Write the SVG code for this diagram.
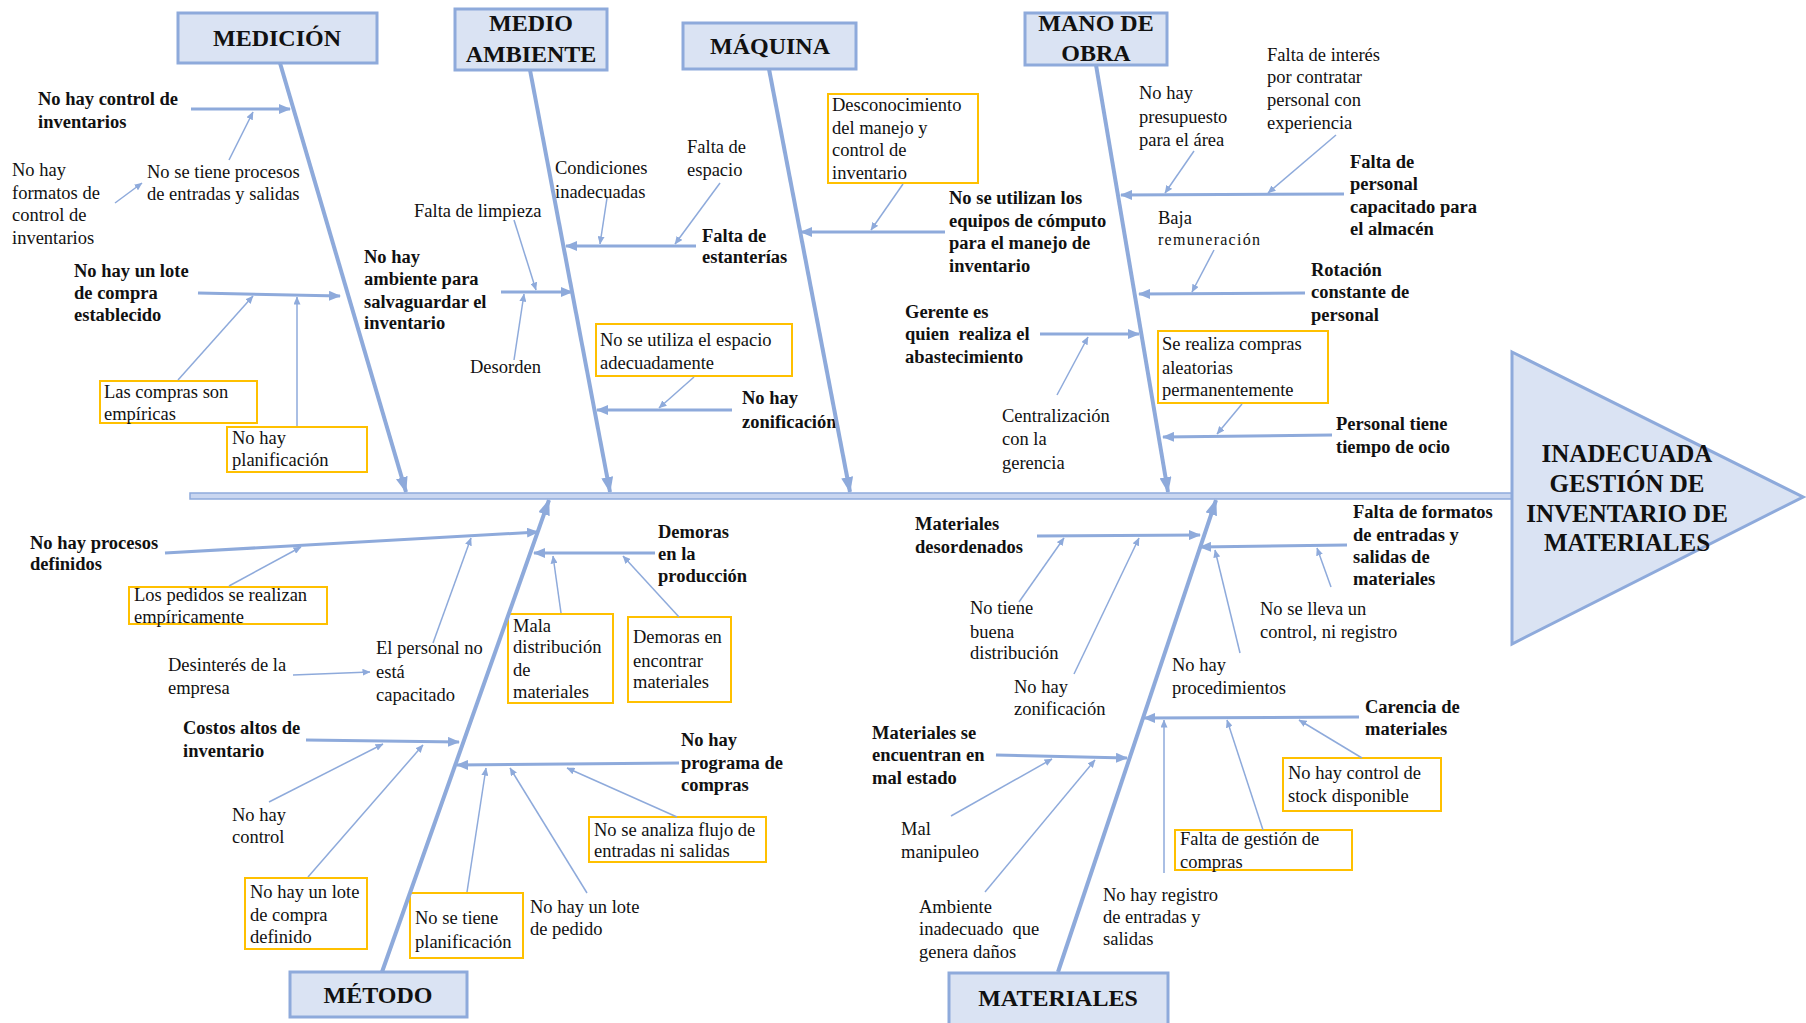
<svg xmlns="http://www.w3.org/2000/svg" width="1806" height="1023" viewBox="0 0 1806 1023">
  <style>
    .b { font-family: "Liberation Serif", "Times New Roman", serif; font-weight: bold; font-size: 18.5px; fill: #111; }
    .r { font-family: "Liberation Serif", "Times New Roman", serif; font-size: 18.5px; fill: #111; }
    .cat { font-family: "Liberation Serif", "Times New Roman", serif; font-weight: bold; font-size: 24px; fill: #111; text-anchor: middle; }
    .head { font-family: "Liberation Serif", "Times New Roman", serif; font-weight: bold; font-size: 25px; fill: #111; text-anchor: middle; }
    .catbox { fill: #dae3f3; stroke: #8eaadb; stroke-width: 3; }
    .ybox { fill: #ffffff; stroke: #ffc000; stroke-width: 2; }
    .bone { stroke: #8eaadb; stroke-width: 4; fill: none; marker-end: url(#arrowL); }
    .br { stroke: #8eaadb; stroke-width: 3; fill: none; marker-end: url(#arrowM); }
    .sub { stroke: #8eaadb; stroke-width: 1.5; fill: none; marker-end: url(#arrowS); }
  </style>
  <defs>
    <marker id="arrowL" markerUnits="userSpaceOnUse" markerWidth="16" markerHeight="12" refX="15" refY="6" orient="auto">
      <path d="M0,0 L16,6 L0,12 z" fill="#8eaadb"/>
    </marker>
    <marker id="arrowM" markerUnits="userSpaceOnUse" markerWidth="12" markerHeight="10" refX="11" refY="5" orient="auto">
      <path d="M0,0 L12,5 L0,10 z" fill="#8eaadb"/>
    </marker>
    <marker id="arrowS" markerUnits="userSpaceOnUse" markerWidth="8" markerHeight="7" refX="7.5" refY="3.5" orient="auto">
      <path d="M0,0 L8,3.5 L0,7 z" fill="#8eaadb"/>
    </marker>
  </defs>

  <rect width="1806" height="1023" fill="#ffffff"/>

  <!-- spine and fish head -->
  <g id="spine">
    <rect x="190" y="493" width="1322" height="6" fill="#c9d6f0" stroke="#8eaadb" stroke-width="1.5"/>
  </g>
  <g id="head">
    <polygon points="1512,352 1803,497 1512,644" fill="#dae3f3" stroke="#8eaadb" stroke-width="3"/>
    <text class="head" x="1627"><tspan x="1627" y="462">INADECUADA</tspan><tspan x="1627" y="492">GESTIÓN DE</tspan><tspan x="1627" y="522">INVENTARIO DE</tspan><tspan x="1627" y="551">MATERIALES</tspan></text>
  </g>

  <!-- category boxes -->
  <g id="cat-medicion">
    <rect class="catbox" x="178" y="13" width="199" height="50"/>
    <text class="cat" x="277" y="46">MEDICIÓN</text>
  </g>
  <g id="cat-medio-ambiente">
    <rect class="catbox" x="455" y="9" width="152" height="61"/>
    <text class="cat"><tspan x="531" y="31">MEDIO</tspan><tspan x="531" y="62">AMBIENTE</tspan></text>
  </g>
  <g id="cat-maquina">
    <rect class="catbox" x="683" y="23" width="173" height="46"/>
    <text class="cat" x="770" y="54">MÁQUINA</text>
  </g>
  <g id="cat-mano-de-obra">
    <rect class="catbox" x="1025" y="13" width="142" height="52"/>
    <text class="cat"><tspan x="1096" y="31">MANO DE</tspan><tspan x="1096" y="61">OBRA</tspan></text>
  </g>
  <g id="cat-metodo">
    <rect class="catbox" x="290" y="972" width="177" height="45"/>
    <text class="cat" x="378" y="1003">MÉTODO</text>
  </g>
  <g id="cat-materiales">
    <rect class="catbox" x="949" y="973" width="219" height="56"/>
    <text class="cat" x="1058" y="1006">MATERIALES</text>
  </g>

  <!-- MEDICIÓN causes -->
  <g id="n-control-inventarios">
    <text class="b"><tspan x="38" y="105">No hay control de</tspan><tspan x="38" y="128">inventarios</tspan></text>
  </g>
  <g id="n-procesos-es">
    <text class="r"><tspan x="147" y="178">No se tiene procesos</tspan><tspan x="147" y="200">de entradas y salidas</tspan></text>
  </g>
  <g id="n-formatos-control">
    <text class="r"><tspan x="12" y="176">No hay</tspan><tspan x="12" y="198.5">formatos de</tspan><tspan x="12" y="221">control de</tspan><tspan x="12" y="243.5">inventarios</tspan></text>
  </g>
  <g id="n-lote-compra">
    <text class="b"><tspan x="74" y="277">No hay un lote</tspan><tspan x="74" y="299">de compra</tspan><tspan x="74" y="321">establecido</tspan></text>
  </g>
  <g id="n-compras-empiricas">
    <rect class="ybox" x="100" y="381" width="157" height="42"/>
    <text class="r"><tspan x="104" y="398">Las compras son</tspan><tspan x="104" y="420">empíricas</tspan></text>
  </g>
  <g id="n-planificacion">
    <rect class="ybox" x="227" y="427" width="140" height="45"/>
    <text class="r"><tspan x="232" y="444">No hay</tspan><tspan x="232" y="466">planificación</tspan></text>
  </g>

  <!-- MEDIO AMBIENTE causes -->
  <g id="n-ambiente-salvaguardar">
    <text class="b"><tspan x="364" y="263">No hay</tspan><tspan x="364" y="285">ambiente para</tspan><tspan x="364" y="308">salvaguardar el</tspan><tspan x="364" y="329">inventario</tspan></text>
  </g>
  <g id="n-limpieza">
    <text class="r" x="414" y="217">Falta de limpieza</text>
  </g>
  <g id="n-desorden">
    <text class="r" x="470" y="373">Desorden</text>
  </g>
  <g id="n-condiciones">
    <text class="r"><tspan x="555" y="174">Condiciones</tspan><tspan x="555" y="198">inadecuadas</tspan></text>
  </g>
  <g id="n-espacio">
    <text class="r"><tspan x="687" y="153">Falta de</tspan><tspan x="687" y="176">espacio</tspan></text>
  </g>
  <g id="n-estanterias">
    <text class="b"><tspan x="702" y="242">Falta de</tspan><tspan x="702" y="263">estanterías</tspan></text>
  </g>
  <g id="n-espacio-adecuado">
    <rect class="ybox" x="596" y="324" width="196" height="52"/>
    <text class="r"><tspan x="600" y="346">No se utiliza el espacio</tspan><tspan x="600" y="369">adecuadamente</tspan></text>
  </g>
  <g id="n-zonificacion-ma">
    <text class="b"><tspan x="742" y="404">No hay</tspan><tspan x="742" y="428">zonificación</tspan></text>
  </g>

  <!-- MÁQUINA causes -->
  <g id="n-equipos-computo">
    <text class="b"><tspan x="949" y="204">No se utilizan los</tspan><tspan x="949" y="227">equipos de cómputo</tspan><tspan x="949" y="249">para el manejo de</tspan><tspan x="949" y="272">inventario</tspan></text>
  </g>
  <g id="n-desconocimiento">
    <rect class="ybox" x="828" y="94" width="150" height="89"/>
    <text class="r"><tspan x="832" y="111">Desconocimiento</tspan><tspan x="832" y="134">del manejo y</tspan><tspan x="832" y="156">control de</tspan><tspan x="832" y="179">inventario</tspan></text>
  </g>
  <g id="n-gerente">
    <text class="b" xml:space="preserve"><tspan x="905" y="318">Gerente es</tspan><tspan x="905" y="340">quien  realiza el</tspan><tspan x="905" y="363">abastecimiento</tspan></text>
  </g>
  <g id="n-centralizacion">
    <text class="r"><tspan x="1002" y="422">Centralización</tspan><tspan x="1002" y="445">con la</tspan><tspan x="1002" y="469">gerencia</tspan></text>
  </g>

  <!-- MANO DE OBRA causes -->
  <g id="n-personal-capacitado">
    <text class="b"><tspan x="1350" y="168">Falta de</tspan><tspan x="1350" y="190">personal</tspan><tspan x="1350" y="213">capacitado para</tspan><tspan x="1350" y="235">el almacén</tspan></text>
  </g>
  <g id="n-presupuesto">
    <text class="r"><tspan x="1139" y="99">No hay</tspan><tspan x="1139" y="123">presupuesto</tspan><tspan x="1139" y="146">para el área</tspan></text>
  </g>
  <g id="n-interes">
    <text class="r"><tspan x="1267" y="61">Falta de interés</tspan><tspan x="1267" y="83">por contratar</tspan><tspan x="1267" y="106">personal con</tspan><tspan x="1267" y="129">experiencia</tspan></text>
  </g>
  <g id="n-rotacion">
    <text class="b"><tspan x="1311" y="276">Rotación</tspan><tspan x="1311" y="298">constante de</tspan><tspan x="1311" y="321">personal</tspan></text>
  </g>
  <g id="n-remuneracion">
    <text class="r" x="1158" y="224">Baja</text>
    <text class="r" x="1158" y="245" style="font-size:16px" textLength="102" lengthAdjust="spacing">remuneración</text>
  </g>
  <g id="n-compras-aleatorias">
    <rect class="ybox" x="1158" y="331" width="170" height="72"/>
    <text class="r"><tspan x="1162" y="350">Se realiza compras</tspan><tspan x="1162" y="374">aleatorias</tspan><tspan x="1162" y="396">permanentemente</tspan></text>
  </g>
  <g id="n-ocio">
    <text class="b"><tspan x="1336" y="430">Personal tiene</tspan><tspan x="1336" y="453">tiempo de ocio</tspan></text>
  </g>

  <!-- MÉTODO causes -->
  <g id="n-procesos-definidos">
    <text class="b"><tspan x="30" y="549">No hay procesos</tspan><tspan x="30" y="570">definidos</tspan></text>
  </g>
  <g id="n-pedidos-empiricos">
    <rect class="ybox" x="129" y="587" width="198" height="37"/>
    <text class="r"><tspan x="134" y="601">Los pedidos se realizan</tspan><tspan x="134" y="623">empíricamente</tspan></text>
  </g>
  <g id="n-personal-no-capacitado">
    <text class="r"><tspan x="376" y="654">El personal no</tspan><tspan x="376" y="678">está</tspan><tspan x="376" y="701">capacitado</tspan></text>
  </g>
  <g id="n-desinteres">
    <text class="r"><tspan x="168" y="671">Desinterés de la</tspan><tspan x="168" y="694">empresa</tspan></text>
  </g>
  <g id="n-costos-altos">
    <text class="b"><tspan x="183" y="734">Costos altos de</tspan><tspan x="183" y="757">inventario</tspan></text>
  </g>
  <g id="n-no-control">
    <text class="r"><tspan x="232" y="821">No hay</tspan><tspan x="232" y="843">control</tspan></text>
  </g>
  <g id="n-lote-definido">
    <rect class="ybox" x="245" y="878" width="122" height="71"/>
    <text class="r"><tspan x="250" y="898">No hay un lote</tspan><tspan x="250" y="921">de compra</tspan><tspan x="250" y="943">definido</tspan></text>
  </g>
  <g id="n-programa-compras">
    <text class="b"><tspan x="681" y="746">No hay</tspan><tspan x="681" y="769">programa de</tspan><tspan x="681" y="791">compras</tspan></text>
  </g>
  <g id="n-flujo">
    <rect class="ybox" x="589" y="817" width="177" height="45"/>
    <text class="r"><tspan x="594" y="836">No se analiza flujo de</tspan><tspan x="594" y="857">entradas ni salidas</tspan></text>
  </g>
  <g id="n-lote-pedido">
    <text class="r"><tspan x="530" y="913">No hay un lote</tspan><tspan x="530" y="935">de pedido</tspan></text>
  </g>
  <g id="n-sin-planificacion">
    <rect class="ybox" x="410" y="893" width="113" height="65"/>
    <text class="r"><tspan x="415" y="924">No se tiene</tspan><tspan x="415" y="948">planificación</tspan></text>
  </g>
  <g id="n-demoras-produccion">
    <text class="b"><tspan x="658" y="538">Demoras</tspan><tspan x="658" y="560">en la</tspan><tspan x="658" y="582">producción</tspan></text>
  </g>
  <g id="n-mala-distribucion">
    <rect class="ybox" x="508" y="614" width="105" height="89"/>
    <text class="r"><tspan x="513" y="632">Mala</tspan><tspan x="513" y="653">distribución</tspan><tspan x="513" y="676">de</tspan><tspan x="513" y="698">materiales</tspan></text>
  </g>
  <g id="n-demoras-encontrar">
    <rect class="ybox" x="628" y="617" width="103" height="85"/>
    <text class="r"><tspan x="633" y="643">Demoras en</tspan><tspan x="633" y="667">encontrar</tspan><tspan x="633" y="688">materiales</tspan></text>
  </g>

  <!-- MATERIALES causes -->
  <g id="n-desordenados">
    <text class="b"><tspan x="915" y="530">Materiales</tspan><tspan x="915" y="553">desordenados</tspan></text>
  </g>
  <g id="n-buena-distribucion">
    <text class="r"><tspan x="970" y="614">No tiene</tspan><tspan x="970" y="638">buena</tspan><tspan x="970" y="659">distribución</tspan></text>
  </g>
  <g id="n-zonificacion-mat">
    <text class="r"><tspan x="1014" y="693">No hay</tspan><tspan x="1014" y="715">zonificación</tspan></text>
  </g>
  <g id="n-formatos-es">
    <text class="b"><tspan x="1353" y="518">Falta de formatos</tspan><tspan x="1353" y="541">de entradas y</tspan><tspan x="1353" y="563">salidas de</tspan><tspan x="1353" y="585">materiales</tspan></text>
  </g>
  <g id="n-control-registro">
    <text class="r"><tspan x="1260" y="615">No se lleva un</tspan><tspan x="1260" y="638">control, ni registro</tspan></text>
  </g>
  <g id="n-procedimientos">
    <text class="r"><tspan x="1172" y="671">No hay</tspan><tspan x="1172" y="694">procedimientos</tspan></text>
  </g>
  <g id="n-mal-estado">
    <text class="b"><tspan x="872" y="739">Materiales se</tspan><tspan x="872" y="761">encuentran en</tspan><tspan x="872" y="784">mal estado</tspan></text>
  </g>
  <g id="n-manipuleo">
    <text class="r"><tspan x="901" y="835">Mal</tspan><tspan x="901" y="858">manipuleo</tspan></text>
  </g>
  <g id="n-ambiente-danos">
    <text class="r" xml:space="preserve"><tspan x="919" y="913">Ambiente</tspan><tspan x="919" y="935">inadecuado  que</tspan><tspan x="919" y="958">genera daños</tspan></text>
  </g>
  <g id="n-carencia">
    <text class="b"><tspan x="1365" y="713">Carencia de</tspan><tspan x="1365" y="735">materiales</tspan></text>
  </g>
  <g id="n-stock">
    <rect class="ybox" x="1283" y="758" width="158" height="53"/>
    <text class="r"><tspan x="1288" y="779">No hay control de</tspan><tspan x="1288" y="802">stock disponible</tspan></text>
  </g>
  <g id="n-gestion-compras">
    <rect class="ybox" x="1175" y="830" width="177" height="40"/>
    <text class="r"><tspan x="1180" y="845">Falta de gestión de</tspan><tspan x="1180" y="868">compras</tspan></text>
  </g>
  <g id="n-registro-es">
    <text class="r"><tspan x="1103" y="901">No hay registro</tspan><tspan x="1103" y="923">de entradas y</tspan><tspan x="1103" y="945">salidas</tspan></text>
  </g>

  <!-- connectors: bones, branches and sub-causes (drawn over the labels) -->
  <g id="connectors">
    <line class="bone" x1="280" y1="63" x2="406" y2="492"/>
    <line class="bone" x1="530" y1="70" x2="610" y2="492"/>
    <line class="bone" x1="769" y1="69" x2="850" y2="492"/>
    <line class="bone" x1="1096" y1="65" x2="1168" y2="492"/>
    <line class="bone" x1="382" y1="972" x2="549" y2="500"/>
    <line class="bone" x1="1058" y1="972" x2="1216" y2="500"/>

    <line class="br" x1="191" y1="109" x2="290" y2="109"/>
    <line class="br" x1="198" y1="293" x2="340" y2="296"/>
    <line class="br" x1="501" y1="292" x2="572" y2="292"/>
    <line class="br" x1="696" y1="246" x2="566" y2="246"/>
    <line class="br" x1="732" y1="410" x2="597" y2="410"/>
    <line class="br" x1="945" y1="232" x2="801" y2="232"/>
    <line class="br" x1="1040" y1="334" x2="1139" y2="334"/>
    <line class="br" x1="1344" y1="194" x2="1121" y2="195"/>
    <line class="br" x1="1305" y1="293" x2="1139" y2="294"/>
    <line class="br" x1="1332" y1="435" x2="1163" y2="437"/>
    <line class="br" x1="165" y1="553" x2="538" y2="532"/>
    <line class="br" x1="306" y1="740" x2="459" y2="742"/>
    <line class="br" x1="679" y1="763" x2="457" y2="765"/>
    <line class="br" x1="655" y1="553" x2="534" y2="553"/>
    <line class="br" x1="1037" y1="536" x2="1200" y2="535"/>
    <line class="br" x1="1347" y1="545" x2="1200" y2="547"/>
    <line class="br" x1="996" y1="755" x2="1127" y2="758"/>
    <line class="br" x1="1359" y1="717" x2="1144" y2="718"/>

    <line class="sub" x1="115" y1="203" x2="142" y2="183"/>
    <line class="sub" x1="229" y1="160" x2="253" y2="112"/>
    <line class="sub" x1="178" y1="380" x2="253" y2="296"/>
    <line class="sub" x1="297" y1="426" x2="297" y2="297"/>
    <line class="sub" x1="514" y1="220" x2="536" y2="290"/>
    <line class="sub" x1="514" y1="360" x2="524" y2="294"/>
    <line class="sub" x1="607" y1="198" x2="600" y2="244"/>
    <line class="sub" x1="720" y1="183" x2="675" y2="244"/>
    <line class="sub" x1="694" y1="377" x2="659" y2="408"/>
    <line class="sub" x1="903" y1="184" x2="871" y2="230"/>
    <line class="sub" x1="1057" y1="395" x2="1088" y2="337"/>
    <line class="sub" x1="1194" y1="151" x2="1165" y2="193"/>
    <line class="sub" x1="1336" y1="135" x2="1268" y2="193"/>
    <line class="sub" x1="1214" y1="250" x2="1192" y2="292"/>
    <line class="sub" x1="1242" y1="404" x2="1217" y2="434"/>
    <line class="sub" x1="229" y1="586" x2="301" y2="547"/>
    <line class="sub" x1="433" y1="643" x2="471" y2="538"/>
    <line class="sub" x1="293" y1="675" x2="370" y2="672"/>
    <line class="sub" x1="269" y1="802" x2="383" y2="744"/>
    <line class="sub" x1="308" y1="877" x2="423" y2="745"/>
    <line class="sub" x1="677" y1="817" x2="567" y2="768"/>
    <line class="sub" x1="587" y1="893" x2="510" y2="768"/>
    <line class="sub" x1="467" y1="892" x2="486" y2="768"/>
    <line class="sub" x1="561" y1="613" x2="553" y2="556"/>
    <line class="sub" x1="679" y1="617" x2="623" y2="556"/>
    <line class="sub" x1="1019" y1="602" x2="1064" y2="538"/>
    <line class="sub" x1="1074" y1="674" x2="1139" y2="538"/>
    <line class="sub" x1="1331" y1="587" x2="1317" y2="548"/>
    <line class="sub" x1="1240" y1="653" x2="1215" y2="550"/>
    <line class="sub" x1="951" y1="816" x2="1052" y2="759"/>
    <line class="sub" x1="985" y1="892" x2="1095" y2="760"/>
    <line class="sub" x1="1362" y1="758" x2="1299" y2="720"/>
    <line class="sub" x1="1263" y1="830" x2="1227" y2="720"/>
    <line class="sub" x1="1164" y1="873" x2="1164" y2="720"/>
  </g>
</svg>
